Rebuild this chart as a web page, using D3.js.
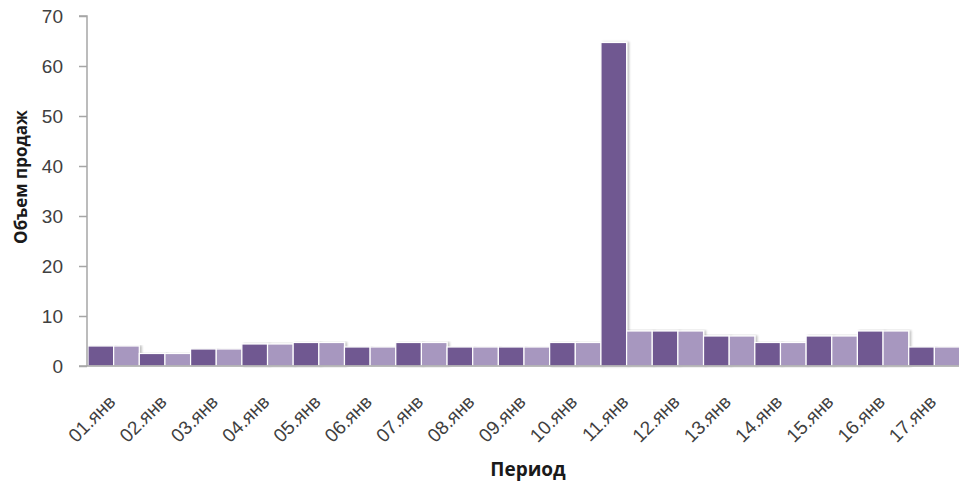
<!DOCTYPE html>
<html>
<head>
<meta charset="utf-8">
<script src="https://cdn.jsdelivr.net/npm/d3@7"></script>
<style>
  html, body { margin: 0; padding: 0; background: #fff; }
  svg { display: block; font-family: "Open Sans", "Noto Sans", sans-serif; }
</style>
</head>
<body>
<svg id="chart" width="959" height="485"></svg>
<script>
// Daily sales, two series per day
const categories = ["01.янв","02.янв","03.янв","04.янв","05.янв","06.янв","07.янв","08.янв","09.янв",
                    "10.янв","11.янв","12.янв","13.янв","14.янв","15.янв","16.янв","17.янв"];
const seriesA = [4, 2.5, 3.4, 4.4, 4.7, 3.8, 4.7, 3.8, 3.8, 4.7, 64.7, 7, 6, 4.7, 6, 7, 3.8];
const seriesB = [4, 2.5, 3.4, 4.4, 4.7, 3.8, 4.7, 3.8, 3.8, 4.7, 7, 7, 6, 4.7, 6, 7, 3.8];
const yTicks = [0, 10, 20, 30, 40, 50, 60, 70];
const colors = ["#6f5891", "#a797bf"];

const svg = d3.select("#chart");
const margin = { left: 87, top: 16, right: 0, bottom: 119 };
const W = 959, H = 485;
const plotRight = 960;
const plotBottom = H - margin.bottom;

const x = d3.scaleBand().domain(categories).range([margin.left + 1, plotRight]).padding(0);
const xs = d3.scaleBand().domain([0, 1]).range([0, x.bandwidth()]).padding(0);
const y = d3.scaleLinear().domain([0, 70]).range([plotBottom, margin.top]);

const defs = svg.append("defs");
const f = defs.append("filter").attr("id", "shadow")
  .attr("x", "-20%").attr("y", "-5%").attr("width", "150%").attr("height", "110%");
f.append("feDropShadow").attr("dx", 2).attr("dy", 0).attr("stdDeviation", 1.2)
  .attr("flood-color", "#000").attr("flood-opacity", 0.25);

// bars
const groups = svg.append("g").selectAll("g").data(categories).join("g")
  .attr("transform", d => `translate(${x(d)},0)`);
const rows = categories.map((c, i) => [seriesA[i], seriesB[i]]);
groups.each(function (c, i) {
  d3.select(this).selectAll("rect").data(rows[i]).join("rect")
    .attr("x", (d, j) => xs(j))
    .attr("width", xs.bandwidth())
    .attr("y", d => y(d))
    .attr("height", d => y(0) - y(d))
    .attr("fill", (d, j) => colors[j])
    .attr("stroke", "#fff")
    .attr("stroke-width", 1.2)
    .attr("filter", "url(#shadow)");
});

// y axis
const yAxis = svg.append("g").attr("transform", `translate(${margin.left},0)`)
  .call(d3.axisLeft(y).tickValues(yTicks).tickSize(8).tickPadding(16));
yAxis.select(".domain").attr("stroke", "#a6a6a6").attr("stroke-width", 1.5)
  .attr("d", `M-8,${margin.top}H0V${plotBottom}`);
yAxis.selectAll(".tick line").attr("stroke", "#a6a6a6").attr("stroke-width", 1.5);
yAxis.selectAll(".tick text").attr("fill", "#404040").style("font-size", "19px");

// x axis
const xAxis = svg.append("g").attr("transform", `translate(0,${plotBottom})`)
  .call(d3.axisBottom(x).tickSize(0).tickPadding(0));
xAxis.select(".domain").attr("stroke", "#a6a6a6").attr("stroke-width", 1.5)
  .attr("d", `M${margin.left - 8},0H${W}`);
xAxis.selectAll(".tick text")
  .attr("fill", "#404040").style("font-size", "19px")
  .attr("text-anchor", "end")
  .attr("dy", 0)
  .attr("y", 0)
  .attr("transform", "translate(3,37) rotate(-45)");

// axis titles
svg.append("text").attr("x", 528).attr("y", 476).attr("text-anchor", "middle")
  .attr("font-weight", "bold").attr("fill", "#1a1a1a").style("font-size", "19px").text("Период");
svg.append("text").attr("transform", "translate(27,177) rotate(-90)").attr("text-anchor", "middle")
  .attr("font-weight", "bold").attr("fill", "#1a1a1a").style("font-size", "17px").text("Объем продаж");
</script>
</body>
</html>
